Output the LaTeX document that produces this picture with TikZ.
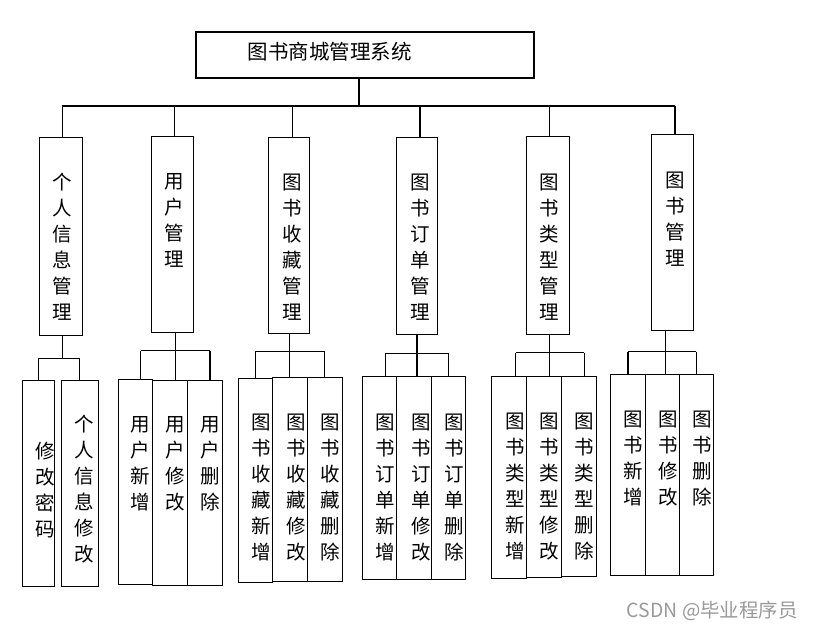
\documentclass[tikz,border=0pt]{standalone}
\usepackage{fontspec}
\setmainfont{Noto Sans CJK SC}
\usepackage{tikz}

\begin{document}
\begin{tikzpicture}[x=1pt, y=-1pt, line width=1.1pt,
        box/.style={draw, inner sep=0pt},
        vtext/.style={anchor=north, inner sep=0pt, align=center, font=\fontsize{19.5}{26}\selectfont}]
        \useasboundingbox (0,0) rectangle (814,630);

        % top
        \node[box, minimum width=338, minimum height=46] (sys) at (365,55) {};
        \node[anchor=west, inner sep=0pt, font=\fontsize{20.5}{24}\selectfont] (syst) at (247,52) {图书商城管理系统};

        % first level
        \node[box, minimum width=43, minimum height=198] (m1) at (60.8,236.2) {};
        \node[box, minimum width=41.6, minimum height=196] (m2) at (172.5,234.3) {};
        \node[box, minimum width=40.6, minimum height=196] (m3) at (289,235.3) {};
        \node[box, minimum width=41.4, minimum height=197] (m4) at (417,235.7) {};
        \node[box, minimum width=43.4, minimum height=198] (m5) at (548,235.2) {};
        \node[box, minimum width=42, minimum height=196] (m6) at (672.3,232.3) {};
        \node[vtext] (t1) at (62.3,173) {个\\人\\信\\息\\管\\理};
        \node[vtext] (t2) at (174.3,173) {用\\户\\管\\理};
        \node[vtext] (t3) at (292.7,173) {图\\书\\收\\藏\\管\\理};
        \node[vtext] (t4) at (420,173) {图\\书\\订\\单\\管\\理};
        \node[vtext] (t5) at (549.7,173) {图\\书\\类\\型\\管\\理};
        \node[vtext] (t6) at (675,171.7) {图\\书\\管\\理};

        \coordinate (bus) at (0,106);
        \draw ([xshift=-6]sys.south) -- ([xshift=-6]sys.south |- bus);
        \draw (t1 |- bus) -- (t6 |- bus);
        \foreach \i in {1,...,6}
            \draw (t\i |- bus) -- (t\i |- m\i.north);

        % second level
        \node[box, minimum width=32, minimum height=206] (a1) at (38.3,483.3) {};
        \node[box, minimum width=37, minimum height=206] (a2) at (79.8,483.3) {};
        \node[vtext] (a1t) at (45,441.7) {修\\改\\密\\码};
        \node[vtext] (a2t) at (84.3,415) {个\\人\\信\\息\\修\\改};

        \node[box, minimum width=34, minimum height=205] (b1) at (135.3,481.8) {};
        \node[box, minimum width=35.4, minimum height=205] (b2) at (170,482.8) {};
        \node[box, minimum width=34.6, minimum height=205] (b3) at (205,482.8) {};
        \node[vtext] (b1t) at (140.7,416) {用\\户\\新\\增};
        \node[vtext] (b2t) at (175.7,416) {用\\户\\修\\改};
        \node[vtext] (b3t) at (210,416) {用\\户\\删\\除};

        \node[box, minimum width=34, minimum height=204] (c1) at (255.3,480.3) {};
        \node[box, minimum width=35, minimum height=204] (c2) at (289.8,479.3) {};
        \node[box, minimum width=35, minimum height=204] (c3) at (324.8,479.3) {};
        \node[vtext] (c1t) at (261.7,413.3) {图\\书\\收\\藏\\新\\增};
        \node[vtext] (c2t) at (296,413.3) {图\\书\\收\\藏\\修\\改};
        \node[vtext] (c3t) at (330.7,413.3) {图\\书\\收\\藏\\删\\除};

        \node[box, minimum width=34, minimum height=202.7] (d1) at (379.3,477.7) {};
        \node[box, minimum width=35.4, minimum height=202.7] (d2) at (414,477.7) {};
        \node[box, minimum width=33.6, minimum height=202.7] (d3) at (448.5,477.7) {};
        \node[vtext] (d1t) at (385.7,413) {图\\书\\订\\单\\新\\增};
        \node[vtext] (d2t) at (421,413) {图\\书\\订\\单\\修\\改};
        \node[vtext] (d3t) at (454.3,413) {图\\书\\订\\单\\删\\除};

        \node[box, minimum width=35, minimum height=202] (e1) at (508.8,477.3) {};
        \node[box, minimum width=35, minimum height=201] (e2) at (543.8,476.8) {};
        \node[box, minimum width=35, minimum height=200] (e3) at (578.8,476.3) {};
        \node[vtext] (e1t) at (515.7,412.7) {图\\书\\类\\型\\新\\增};
        \node[vtext] (e2t) at (549.7,412.7) {图\\书\\类\\型\\修\\改};
        \node[vtext] (e3t) at (584.3,412.7) {图\\书\\类\\型\\删\\除};

        \node[box, minimum width=35.4, minimum height=200.7] (f1) at (628,474.7) {};
        \node[box, minimum width=33.6, minimum height=200.7] (f2) at (662.5,474.7) {};
        \node[box, minimum width=34, minimum height=200.7] (f3) at (696.3,474.7) {};
        \node[vtext] (f1t) at (633.3,410.7) {图\\书\\新\\增};
        \node[vtext] (f2t) at (668.3,410.7) {图\\书\\修\\改};
        \node[vtext] (f3t) at (702.3,410.7) {图\\书\\删\\除};

        % connectors to second level
        \coordinate (ba) at (0,358.3);
        \draw (t1 |- m1.south) -- (t1 |- ba);
        \draw (a1 |- ba) -- (a2 |- ba);
        \draw (a1 |- ba) -- (a1.north);
        \draw (a2 |- ba) -- (a2.north);

        \coordinate (bb) at (0,350.7);
        \draw (b2t |- m2.south) -- (b2t |- b2.north);
        \draw (b1t |- bb) -- (b3t |- bb);
        \draw (b1t |- bb) -- (b1t |- b1.north);
        \draw (b3t |- bb) -- (b3t |- b3.north);

        \coordinate (bc) at (0,351.3);
        \draw (c2 |- m3.south) -- (c2.north);
        \draw (c1 |- bc) -- (c3 |- bc);
        \draw (c1 |- bc) -- (c1.north);
        \draw (c3 |- bc) -- (c3.north);

        \coordinate (bd) at (0,353.3);
        \draw (m4.south) -- (m4.south |- d2.north);
        \draw (d1t |- bd) -- (d3 |- bd);
        \draw (d1t |- bd) -- (d1t |- d1.north);
        \draw (d3 |- bd) -- (d3.north);

        \coordinate (be) at (0,352.7);
        \draw (e2t |- m5.south) -- (e2t |- e2.north);
        \draw (e1t |- be) -- (e3t |- be);
        \draw (e1t |- be) -- (e1t |- e1.north);
        \draw (e3t |- be) -- (e3t |- e3.north);

        \coordinate (bf) at (0,351.7);
        \draw ([xshift=3]f2 |- m6.south) -- ([xshift=3]f2.north);
        \draw (f1 |- bf) -- (f3 |- bf);
        \draw (f1 |- bf) -- (f1.north);
        \draw (f3 |- bf) -- (f3.north);

        \node[anchor=east, inner sep=0pt, text=black!40, font=\fontsize{19.4}{22}\selectfont] (wm) at (798,611) {CSDN @毕业程序员};
    \end{tikzpicture}
\end{document}
